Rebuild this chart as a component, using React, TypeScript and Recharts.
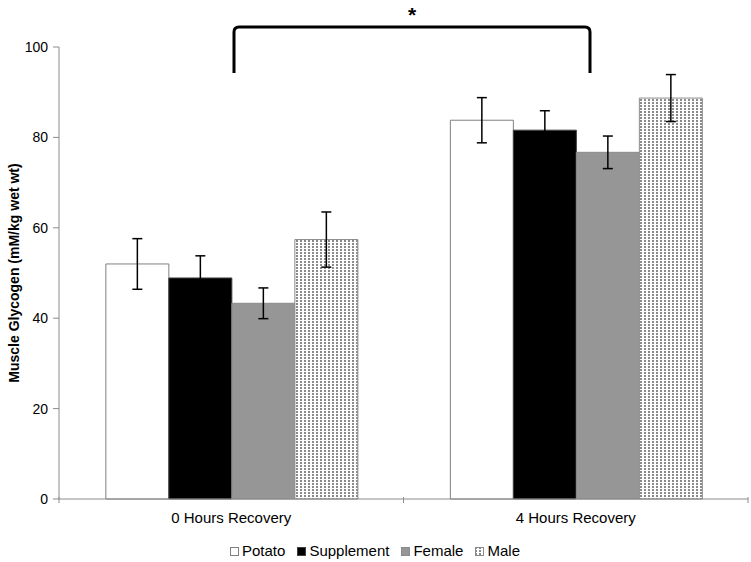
import { BarChart, Bar, XAxis, YAxis, Legend, ErrorBar } from "recharts";

const categories = ["0 Hours Recovery", "4 Hours Recovery"];
const potato = [52, 83.8];
const potatoErr = [5.6, 5];
const supplement = [48.9, 81.6];
const supplementErr = [4.9, 4.3];
const female = [43.3, 76.7];
const femaleErr = [3.4, 3.6];
const male = [57.4, 88.7];
const maleErr = [6.1, 5.2];
const yTicks = [0, 20, 40, 60, 80, 100];

const data = categories.map((c, i) => ({
  name: c,
  potato: potato[i],
  potatoErr: potatoErr[i],
  supplement: supplement[i],
  supplementErr: supplementErr[i],
  female: female[i],
  femaleErr: femaleErr[i],
  male: male[i],
  maleErr: maleErr[i],
}));

const W = 751;
const H = 562;
const LEFT = 59;
const RIGHT_MARGIN = 3;
const TOP = 47;
const FONT = "'Liberation Sans', Arial, sans-serif";
const AXIS = "#8c8c8c";
const halfBand = (W - LEFT - RIGHT_MARGIN) / categories.length / 2;

const series = [
  { key: "potato", name: "Potato", fill: "#ffffff", stroke: "#808080" },
  { key: "supplement", name: "Supplement", fill: "#000000", stroke: "#404040" },
  { key: "female", name: "Female", fill: "#969696", stroke: "#8a8a8a" },
  { key: "male", name: "Male", fill: "url(#dots)", stroke: "#8a8a8a" },
];

// x tick marks sit on the category boundaries, like the original
function XTick(props: any) {
  const { x, y, payload, index } = props;
  const last = index === categories.length - 1;
  const axisY = y - 18;
  return (
    <g>
      <line x1={x - halfBand} x2={x - halfBand} y1={axisY} y2={axisY + 6} stroke={AXIS} />
      {last && <line x1={x + halfBand} x2={x + halfBand} y1={axisY} y2={axisY + 6} stroke={AXIS} />}
      <text x={x} y={y} dy={8} textAnchor="middle" fontSize={15} fontFamily={FONT} fill="#000">
        {payload.value}
      </text>
    </g>
  );
}

function LegendContent() {
  return (
    <div style={{ display: "flex", justifyContent: "center", gap: 12, fontFamily: FONT, fontSize: 15, lineHeight: "18px", paddingLeft: 2 }}>
      {series.map((s) => (
        <span key={s.key} style={{ display: "flex", alignItems: "center" }}>
          <svg width={9} height={9} style={{ marginRight: 3 }}>
            <rect x={0.5} y={0.5} width={8} height={8} fill={s.fill} stroke={s.stroke} />
          </svg>
          {s.name}
        </span>
      ))}
    </div>
  );
}

function Bracket() {
  const left = 234;
  const right = 590;
  const top = 27;
  const bottom = 73;
  return (
    <svg width={W} height={H} style={{ position: "absolute", left: 0, top: 0, pointerEvents: "none" }}>
      <path
        d={`M${left},${bottom} L${left},${top + 5} Q${left},${top} ${left + 5},${top} L${right - 5},${top} Q${right},${top} ${right},${top + 5} L${right},${bottom}`}
        fill="none"
        stroke="#000"
        strokeWidth={3}
      />
      <text x={(left + right) / 2} y={22} textAnchor="middle" fontSize={21} fontWeight="bold" fontFamily={FONT} fill="#000">
        *
      </text>
    </svg>
  );
}

export default function App() {
  return (
    <div style={{ position: "absolute", left: 0, top: 0, width: W, height: H, background: "#fff" }}>
      <BarChart
        width={W}
        height={H}
        data={data}
        margin={{ top: TOP, right: RIGHT_MARGIN, bottom: 2, left: 0 }}
        barCategoryGap="13.6%"
        barGap={0}
      >
        <defs>
          <pattern id="dots" width={4} height={3} patternUnits="userSpaceOnUse">
            <rect width={4} height={3} fill="#ffffff" />
            <rect width={2} height={2} fill="#8a8a8a" />
          </pattern>
        </defs>
        <XAxis
          dataKey="name"
          stroke={AXIS}
          tickLine={false}
          height={43}
          tick={<XTick />}
          tickMargin={10}
        />
        <YAxis
          domain={[0, 100]}
          ticks={yTicks}
          width={LEFT}
          stroke={AXIS}
          tickSize={6}
          tickMargin={5}
          tick={{ fill: "#000", fontSize: 14, fontFamily: FONT }}
          label={{
            value: "Muscle Glycogen (mM/kg wet wt)",
            angle: -90,
            position: "insideLeft",
            offset: 14,
            style: { textAnchor: "middle", fontWeight: "bold", fontSize: 14, fontFamily: FONT, fill: "#000" },
          }}
        />
        <Legend content={<LegendContent />} verticalAlign="bottom" />
        {series.map((s) => (
          <Bar key={s.key} dataKey={s.key} name={s.name} fill={s.fill} stroke={s.stroke} strokeWidth={1} isAnimationActive={false}>
            <ErrorBar dataKey={`${s.key}Err`} width={5} stroke="#000" strokeWidth={1.5} direction="y" />
          </Bar>
        ))}
      </BarChart>
      <Bracket />
    </div>
  );
}
